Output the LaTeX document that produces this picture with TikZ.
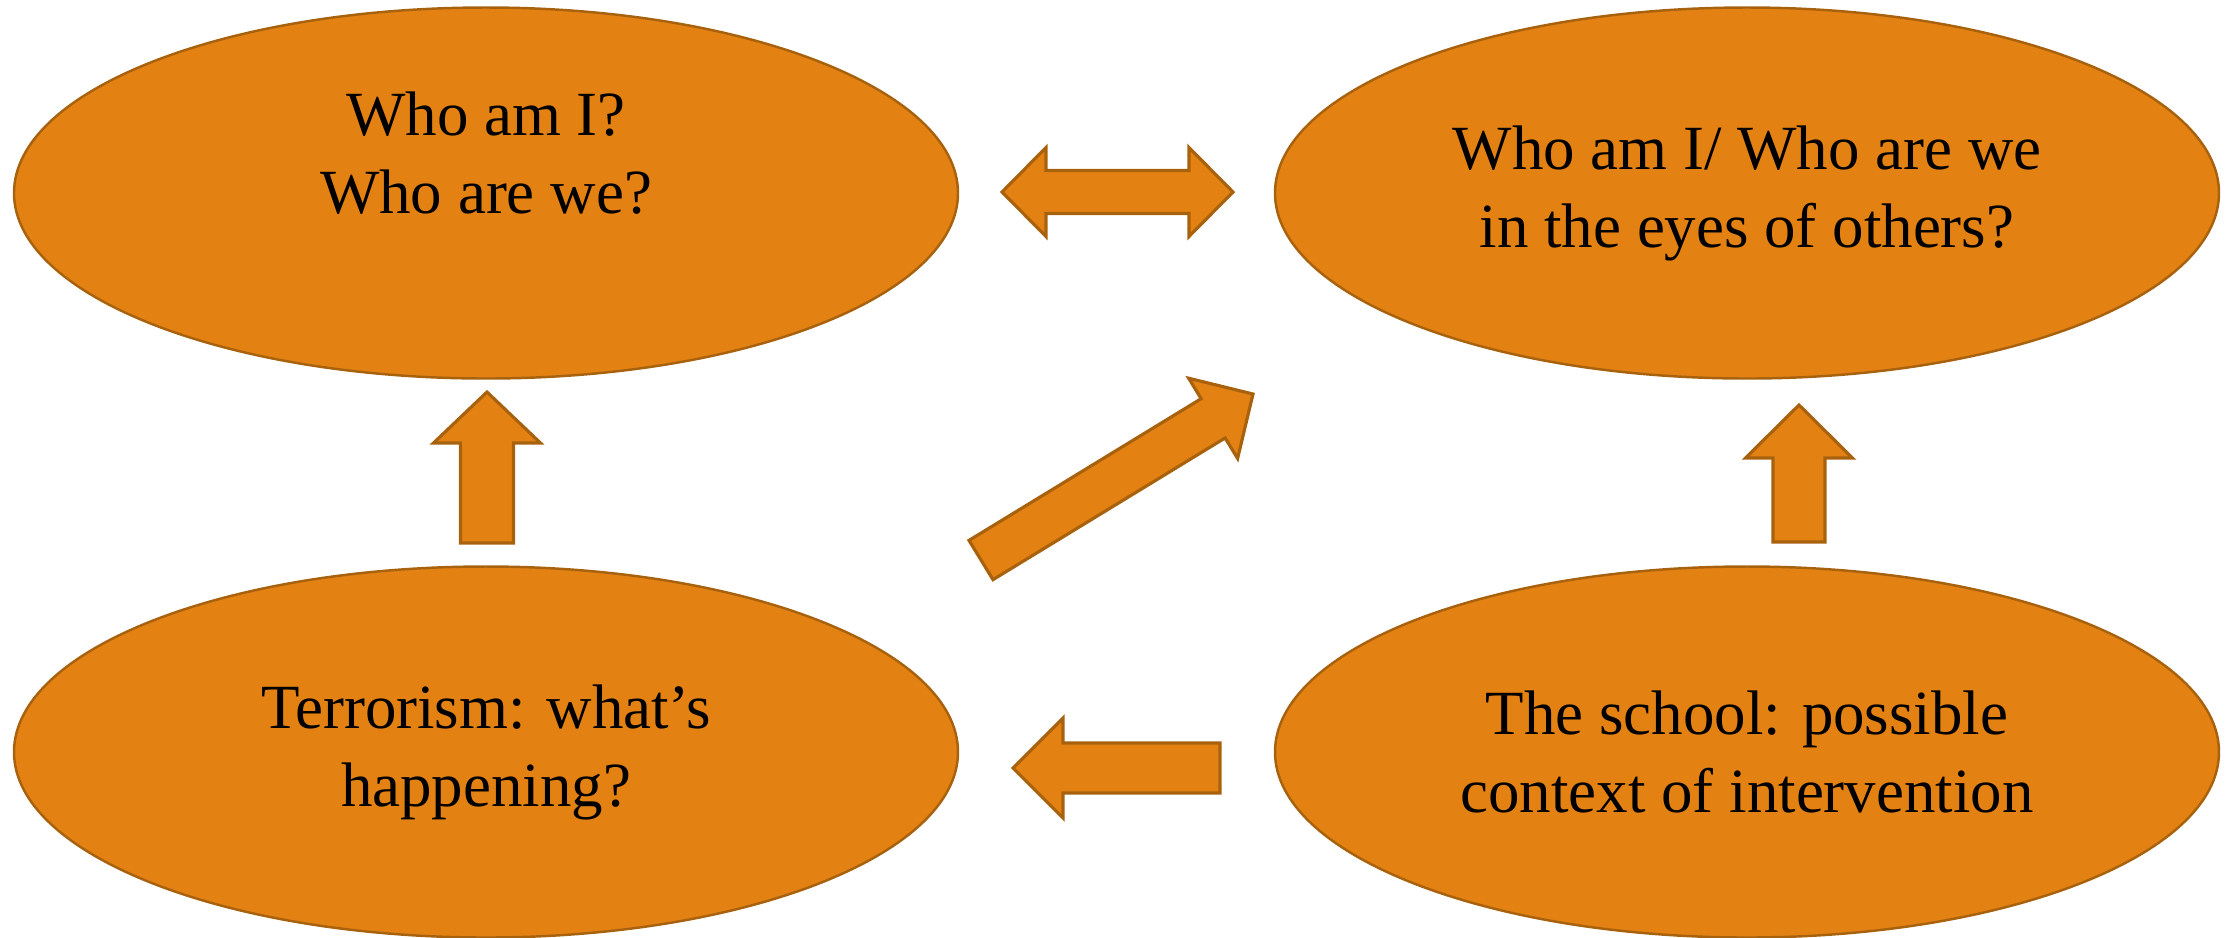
\documentclass[tikz,border=0pt]{standalone}
\usepackage{fontspec}
\setmainfont{Liberation Serif}
\usetikzlibrary{positioning,shapes.geometric,calc}

\definecolor{orangefill}{HTML}{E38213}
\definecolor{orangeline}{HTML}{A8620E}

\tikzset{
  blk shaft/.store in=\blkshaft, blk head/.store in=\blkhead, blk len/.store in=\blklen,
  blk shaft=0.25cm, blk head=0.5cm, blk len=0.5cm,
  block arrow/.style={draw=orangeline, fill=orangefill, line width=0.9pt, line join=miter,
    to path={let \p1=(\tikztostart), \p2=(\tikztotarget),
      \n1={atan2(\y2-\y1,\x2-\x1)}, \n2={veclen(\x2-\x1,\y2-\y1)-\blklen} in
      ($(\p1)+(\n1-90:\blkshaft)$) -- ($(\p1)+(\n1:\n2)+(\n1-90:\blkshaft)$)
      -- ($(\p1)+(\n1:\n2)+(\n1-90:\blkhead)$) -- (\p2)
      -- ($(\p1)+(\n1:\n2)+(\n1+90:\blkhead)$) -- ($(\p1)+(\n1:\n2)+(\n1+90:\blkshaft)$)
      -- ($(\p1)+(\n1+90:\blkshaft)$) -- cycle}},
  double block/.style={draw=orangeline, fill=orangefill, line width=0.9pt, line join=miter,
    to path={let \p1=(\tikztostart), \p2=(\tikztotarget),
      \n1={atan2(\y2-\y1,\x2-\x1)}, \n2={veclen(\x2-\x1,\y2-\y1)-\blklen} in
      (\p1) -- ($(\p1)+(\n1:\blklen)+(\n1+90:\blkhead)$) -- ($(\p1)+(\n1:\blklen)+(\n1+90:\blkshaft)$)
      -- ($(\p1)+(\n1:\n2)+(\n1+90:\blkshaft)$) -- ($(\p1)+(\n1:\n2)+(\n1+90:\blkhead)$)
      -- (\p2)
      -- ($(\p1)+(\n1:\n2)+(\n1-90:\blkhead)$) -- ($(\p1)+(\n1:\n2)+(\n1-90:\blkshaft)$)
      -- ($(\p1)+(\n1:\blklen)+(\n1-90:\blkshaft)$) -- ($(\p1)+(\n1:\blklen)+(\n1-90:\blkhead)$)
      -- cycle}}
}

\begin{document}
\begin{tikzpicture}[
  node distance=1.88cm and 3.17cm,
  every node/.style={font=\fontsize{17.9}{22.2}\selectfont},
  bubble/.style={ellipse, draw=orangeline, fill=orangefill, line width=0.7pt, align=center,
    minimum width=9.44cm, minimum height=3.71cm, inner sep=0pt, outer sep=0pt}
]
\useasboundingbox (0,0) rectangle (22.36,-9.37);

% Top row
\node[bubble, label={[name=selftext, align=center, yshift=0.4cm]center:{Who am I?\\Who are we?}}] (self) at (4.86,-1.93) {};
\node[bubble, right=of self] (others) {Who am I/ Who are we\\in the eyes of others?};

% Bottom row
\node[bubble, below=of self] (terror) {Terrorism: what’s\\happening?};
\node[bubble, below=of others] (school) {The school: possible\\context of intervention};

% Arrow ends
\coordinate (pairL) at (10.02,-1.92);
\coordinate (pairR) at (12.33,-1.92);
\coordinate (upLtail) at (4.87,-5.43);
\coordinate (upLtip) at (4.87,-3.92);
\coordinate (upRtail) at (17.99,-5.42);
\coordinate (upRtip) at (17.99,-4.05);
\coordinate (backtail) at (12.20,-7.68);
\coordinate (backtip) at (10.13,-7.68);
\coordinate (diagtail) at (9.81,-5.60);
\coordinate (diagtip) at (12.53,-3.94);

% Arrows
\draw[double block, blk shaft=0.215cm, blk head=0.445cm, blk len=0.44cm] (pairL) to (pairR);
\draw[block arrow, blk shaft=0.265cm, blk head=0.535cm, blk len=0.51cm] (upLtail) to (upLtip);
\draw[block arrow, blk shaft=0.26cm, blk head=0.535cm, blk len=0.53cm] (upRtail) to (upRtip);
\draw[block arrow] (backtail) to (backtip);
\draw[block arrow, blk shaft=0.23cm, blk head=0.47cm, blk len=0.465cm] (diagtail) to (diagtip);

\end{tikzpicture}
\end{document}
